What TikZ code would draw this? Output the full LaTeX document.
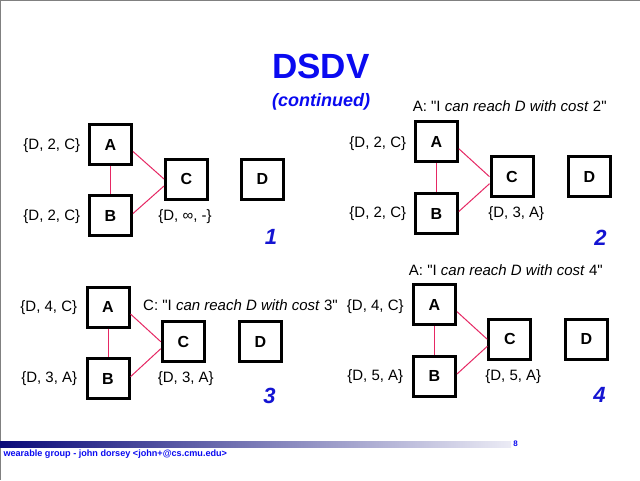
\documentclass[tikz,border=0pt]{standalone}
\usepackage{fontspec}
\setmainfont{Liberation Sans}
\setsansfont{Liberation Sans}
\newfontfamily\qf{Liberation Sans}
\newcommand{\dq}{{\qf\symbol{34}}}
\begin{document}
\begin{tikzpicture}[x=1pt,y=-1pt,
  box/.style={draw=black,line width=3pt,minimum width=42pt,minimum height=40pt,inner sep=0pt,
    font=\fontsize{16}{18}\selectfont\bfseries},
  tbl/.style={inner sep=0pt,font=\fontsize{15}{17}\selectfont},
  msg/.style={inner sep=0pt,font=\fontsize{15}{17}\selectfont},
  num/.style={inner sep=0pt,text=numblue,font=\fontsize{22}{24}\selectfont\bfseries\itshape},
  link/.style={draw=linkred,line width=1pt}]
\definecolor{numblue}{RGB}{20,20,210}
\definecolor{titleblue}{RGB}{10,10,240}
\definecolor{linkred}{RGB}{230,40,100}
\definecolor{navy}{RGB}{10,10,120}
\definecolor{barlight}{RGB}{235,235,245}
\definecolor{frame}{RGB}{128,128,128}
\useasboundingbox (0,0) rectangle (640,480);
\fill[white] (0,0) rectangle (640,480);
\draw[frame,line width=2pt] (0,480) -- (0,0) -- (640,0);

% title
\node[inner sep=0pt,text=titleblue,font=\fontsize{35}{37}\selectfont\bfseries] (title) at (321,66) {DSDV};
\node[inner sep=0pt,text=titleblue,font=\fontsize{18}{20}\selectfont\bfseries\itshape] (sub) at (321,102) {(continued)};

% panel 1
\node[box] (A1) at (110.5,144.5) {A};
\node[box] (B1) at (110.5,215.5) {B};
\node[box] (C1) at (186.5,179) {C};
\node[box] (D1) at (262.5,179) {D};
\draw[link] (A1.south) -- (B1.north);
\draw[link] ([yshift=-7pt]A1.east) -- (C1.west);
\draw[link] ([yshift=2pt]B1.east) -- ([yshift=-7pt]C1.west);
\node[tbl] (la1) at (51.8,146) {\{D, 2, C\}};
\node[tbl] (lb1) at (51.8,217) {\{D, 2, C\}};
\node[tbl] (lc1) at (185,216.7) {\{D, ∞, -\}};
\node[num] (n1) at (271,237) {1};

% panel 2
\node[box] (A2) at (436.3,141.7) {A};
\node[box] (B2) at (436.3,213.5) {B};
\node[box] (C2) at (512,176.7) {C};
\node[box] (D2) at (589.5,176.7) {D};
\draw[link] (A2.south) -- (B2.north);
\draw[link] ([yshift=-7pt]A2.east) -- (C2.west);
\draw[link] ([yshift=2pt]B2.east) -- ([yshift=-7pt]C2.west);
\node[tbl] (la2) at (377.8,143.3) {\{D, 2, C\}};
\node[tbl] (lb2) at (377.8,214) {\{D, 2, C\}};
\node[tbl] (lc2) at (516.3,214) {\{D, 3, A\}};
\node[msg] (m2) at (509.7,106) {A: \dq I \textit{can reach D with cost} 2\dq};
\node[num] (n2) at (600.5,238) {2};

% panel 3
\node[box] (A3) at (108,307) {A};
\node[box] (B3) at (108,378.7) {B};
\node[box] (C3) at (183.3,341.7) {C};
\node[box] (D3) at (260.3,341.7) {D};
\draw[link] (A3.south) -- (B3.north);
\draw[link] ([yshift=-7pt]A3.east) -- (C3.west);
\draw[link] ([yshift=2pt]B3.east) -- ([yshift=-7pt]C3.west);
\node[tbl] (la3) at (48.8,307.3) {\{D, 4, C\}};
\node[tbl] (lb3) at (49.2,378.3) {\{D, 3, A\}};
\node[tbl] (lc3) at (185.8,378.3) {\{D, 3, A\}};
\node[msg] (m3) at (240.5,305) {C: \dq I \textit{can reach D with cost} 3\dq};
\node[num] (n3) at (269.5,396) {3};

% panel 4
\node[box] (A4) at (434.5,304.7) {A};
\node[box] (B4) at (434.5,376) {B};
\node[box] (C4) at (509.8,339.3) {C};
\node[box] (D4) at (586.3,339.3) {D};
\draw[link] (A4.south) -- (B4.north);
\draw[link] ([yshift=-7pt]A4.east) -- (C4.west);
\draw[link] ([yshift=2pt]B4.east) -- ([yshift=-7pt]C4.west);
\node[tbl] (la4) at (375.3,306.7) {\{D, 4, C\}};
\node[tbl] (lb4) at (375.3,376.7) {\{D, 5, A\}};
\node[tbl] (lc4) at (513.3,376.7) {\{D, 5, A\}};
\node[msg] (m4) at (505.8,270) {A: \dq I \textit{can reach D with cost} 4\dq};
\node[num] (n4) at (599.5,395) {4};

% footer
\shade[left color=navy,right color=barlight] (0,441.7) rectangle (511,447.7);
\node[inner sep=0pt,text=titleblue,font=\fontsize{8}{9}\selectfont\bfseries] (page) at (515.5,443.5) {8};
\node[inner sep=0pt,anchor=west,text=titleblue,font=\fontsize{9.1}{10}\selectfont\bfseries] (foot) at (3.3,454) {wearable group - john dorsey <john+@cs.cmu.edu>};
\end{tikzpicture}
\end{document}
